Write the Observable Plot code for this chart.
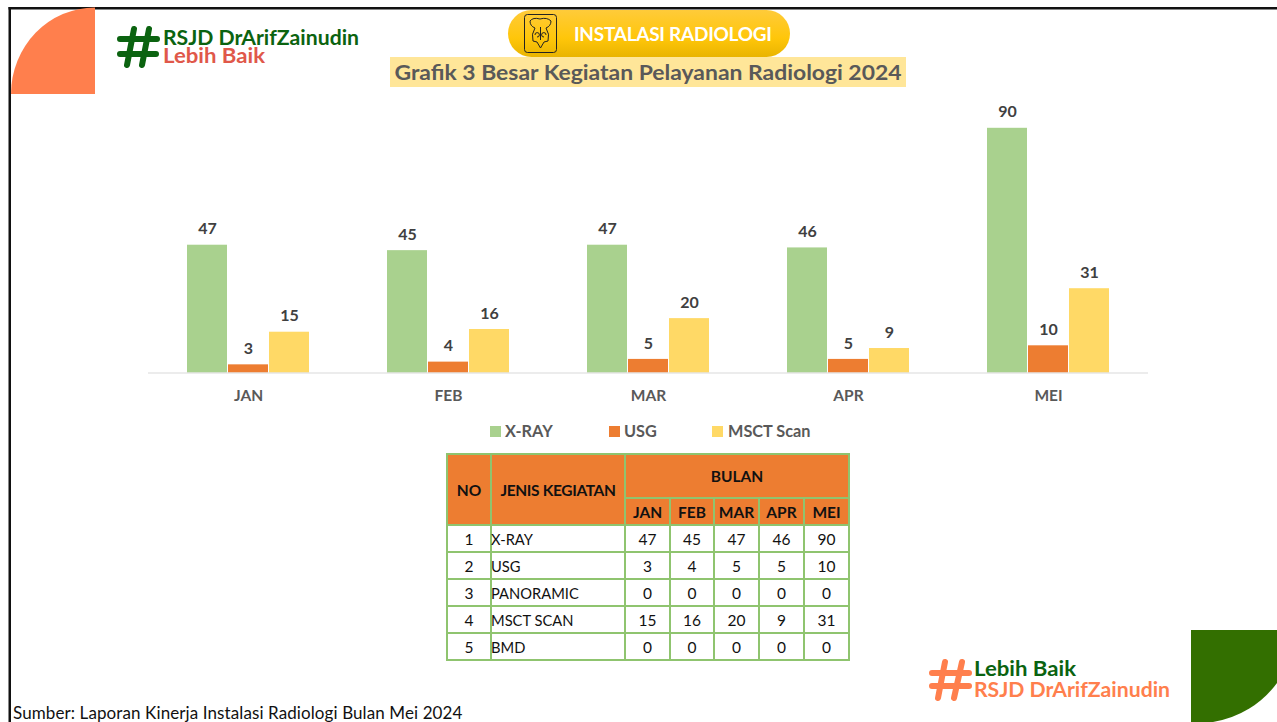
<!DOCTYPE html>
<html><head><meta charset="utf-8">
<script src="https://cdn.jsdelivr.net/npm/d3@7"></script>
<script src="https://cdn.jsdelivr.net/npm/@observablehq/plot@0.6"></script>
<style>
html,body{margin:0;padding:0;background:#fff;}
body{width:1277px;height:722px;position:relative;overflow:hidden;font-family:Lato,"Open Sans",sans-serif;}
.abs{position:absolute;}
#chart{left:0;top:0;}
#chart svg{display:block;background:transparent;}
table{position:absolute;left:446px;top:453px;border-collapse:collapse;table-layout:fixed;width:404px;font-size:15.5px;color:#111;}
td,th{border:2px solid #8fc46f;padding:0;text-align:center;overflow:visible;white-space:nowrap;}
th{background:#ed7d31;font-weight:700;color:#111;}
td.l{text-align:left;font-size:14.7px;text-indent:-1px;}
.leg{position:absolute;top:422px;font-size:16.3px;font-weight:700;color:#595959;line-height:18px;white-space:nowrap;}
.sw{position:absolute;top:426px;width:11px;height:11px;}
</style></head><body>
<svg class="abs" style="left:0;top:0" width="1277" height="722" id="deco">
  <rect x="8.5" y="7" width="1268.5" height="2.5" fill="#111"/>
  <rect x="8.5" y="7" width="2.5" height="715" fill="#111"/>
  <path d="M11 94 A84 86.5 0 0 1 95 7.5 L95 94 Z" fill="#ff7f4d"/>
  <path d="M1191 630 H1277 V683 A98 98 0 0 1 1213 722 H1191 Z" fill="#336f00"/>
  <g stroke="#0b6310" stroke-width="6" stroke-linecap="round" fill="none">
    <path d="M134 29 L127 65 M149 29 L142 65 M120 39 H157 M120 54 H156"/>
  </g>
  <g stroke="#ff7f4d" stroke-width="6" stroke-linecap="round" fill="none">
    <path d="M945 662 L938 698 M962 662 L954 698 M932 673 H969 M932 686 H969"/>
  </g>
  <text x="163" y="45" font-family="Lato" font-weight="700" font-size="20" fill="#0b6310" textLength="196" lengthAdjust="spacingAndGlyphs">RSJD DrArifZainudin</text>
  <text x="163" y="63" font-family="Lato" font-weight="700" font-size="20" fill="#e0584a" textLength="102" lengthAdjust="spacingAndGlyphs">Lebih Baik</text>
  <text x="974" y="676" font-family="Lato" font-weight="700" font-size="20" fill="#0b6310" textLength="102" lengthAdjust="spacingAndGlyphs">Lebih Baik</text>
  <text x="974" y="697" font-family="Lato" font-weight="700" font-size="20" fill="#ff7f4d" textLength="196" lengthAdjust="spacingAndGlyphs">RSJD DrArifZainudin</text>
  <defs><linearGradient id="pill" x1="0" y1="0" x2="0" y2="1">
    <stop offset="0" stop-color="#ffcb3a"/><stop offset=".6" stop-color="#ffc60a"/><stop offset="1" stop-color="#e9b400"/>
  </linearGradient></defs>
  <rect x="508" y="10" width="282" height="47" rx="23.5" ry="23.5" fill="url(#pill)"/>
  <rect x="524.5" y="14.5" width="32" height="38" rx="3" fill="none" stroke="#222" stroke-width="1"/>
  <path d="M530 21 Q533 17 540 19 Q547 17 551 21 Q551 26 546 28 Q550 34 548 41 L544 42 L540.5 48 L537 42 L533 41 Q531 34 535 28 Q530 26 530 21 Z" fill="none" stroke="#222" stroke-width="1"/>
  <path d="M540.5 27 V40 M535 35 a2.2 2.2 0 1 1 2 2 M546 35 a2.2 2.2 0 1 0 -2 2" fill="none" stroke="#222" stroke-width="1"/>
  <text x="673" y="41" text-anchor="middle" font-family="Lato" font-weight="700" font-size="19" fill="#fff" textLength="198">INSTALASI RADIOLOGI</text>
  <rect x="390" y="57" width="516" height="30" fill="#ffe699"/>
  <text x="648" y="79.5" text-anchor="middle" font-family="Lato" font-weight="700" font-size="21" fill="#595959" textLength="507" lengthAdjust="spacingAndGlyphs">Grafik 3 Besar Kegiatan Pelayanan Radiologi 2024</text>
</svg>
<div id="chart" class="abs"></div>
<div id="legend"></div>
<table id="tbl"></table>
<div class="abs" style="left:13px;top:703px;font-size:17px;letter-spacing:.1px;color:#111;font-family:Lato;white-space:nowrap;line-height:20px;">Sumber: Laporan Kinerja Instalasi Radiologi Bulan Mei 2024</div>
<script>
const months = ["JAN","FEB","MAR","APR","MEI"];
const series = ["X-RAY","USG","MSCT Scan"];
const xray = [47,45,47,46,90];
const usg = [3,4,5,5,10];
const msct = [15,16,20,9,31];
const panoramic = [0,0,0,0,0];
const bmd = [0,0,0,0,0];
const colors = ["#a9d18e","#ed7d31","#ffd966"];

const rows = months.flatMap((m,i)=>[
  {month:m,series:series[0],value:xray[i]},
  {month:m,series:series[1],value:usg[i]},
  {month:m,series:series[2],value:msct[i]}
]);

const plot = Plot.plot({
  width:1277, height:420,
  marginLeft:147, marginRight:128, marginTop:0, marginBottom:47.5,
  style:{background:"transparent",fontFamily:"Lato"},
  fx:{domain:months,padding:0,label:null},
  x:{domain:series,axis:null,paddingInner:0.03,paddingOuter:0.945},
  y:{domain:[0,137],range:[372.5,0],axis:null},
  color:{domain:series,range:colors},
  marks:[
    Plot.axisFx({domain:months,anchor:"bottom",label:null,tickSize:0,tickPadding:17,fontSize:15.5,fontWeight:700,fill:"#595959"}),
    Plot.barY(rows,{fx:"month",x:"series",y:"value",fill:"series"}),
    Plot.ruleY([0],{stroke:"#d9d9d9",strokeWidth:1}),
    Plot.text(rows,{fx:"month",x:"series",y:"value",text:"value",dy:-16,fontSize:16,fontWeight:700,fill:"#404040"})
  ]
});
document.getElementById("chart").appendChild(plot);

// legend
const legendPos=[[490,505],[609,624],[712,728]];
const lg=document.getElementById("legend");
series.forEach((s,i)=>{
  lg.insertAdjacentHTML("beforeend",
   `<div class="sw" style="left:${legendPos[i][0]}px;background:${colors[i]}"></div><div class="leg" style="left:${legendPos[i][1]}px">${s}</div>`);
});

// table
const tableRows=[["1","X-RAY",xray],["2","USG",usg],["3","PANORAMIC",panoramic],["4","MSCT SCAN",msct],["5","BMD",bmd]];
const colW=[44,134,45,44,45,45,45];
let h='<colgroup>'+colW.map(w=>`<col style="width:${w}px">`).join("")+'</colgroup>';
h+='<tr style="height:44px"><th rowspan="2">NO</th><th rowspan="2" style="letter-spacing:-.35px">JENIS KEGIATAN</th><th colspan="5">BULAN</th></tr>';
h+='<tr style="height:27px">'+months.map(m=>`<th>${m}</th>`).join("")+'</tr>';
tableRows.forEach(r=>{h+=`<tr style="height:27px"><td>${r[0]}</td><td class="l">${r[1]}</td>${r[2].map(v=>`<td>${v}</td>`).join("")}</tr>`;});
document.getElementById("tbl").innerHTML=h;
</script>
</body></html>
